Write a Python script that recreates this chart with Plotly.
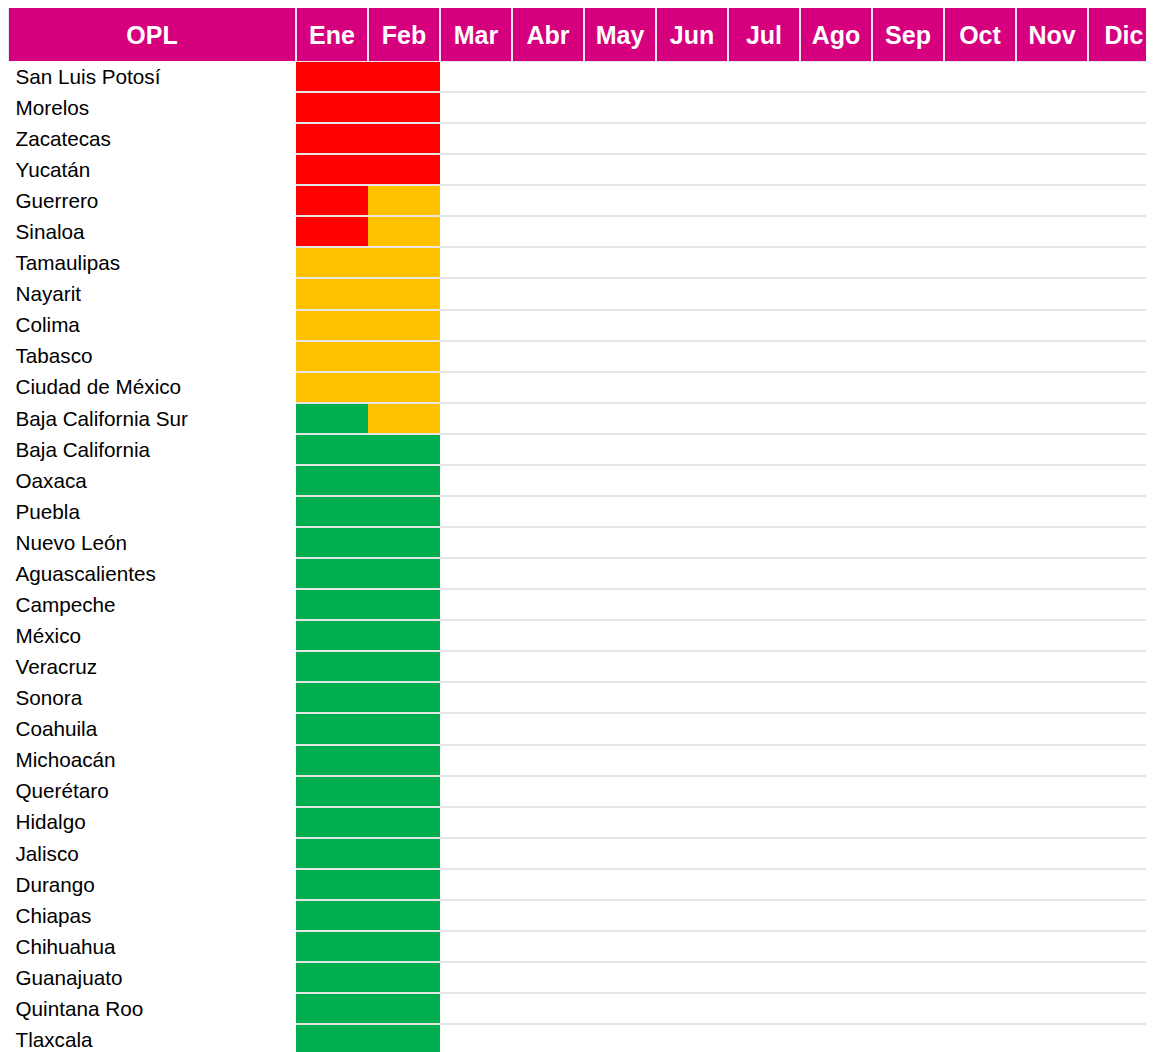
import plotly.graph_objects as go

# ---------------- data ----------------
meses = ["Ene", "Feb", "Mar", "Abr", "May", "Jun",
         "Jul", "Ago", "Sep", "Oct", "Nov", "Dic"]

estados = [
    "San Luis Potosí", "Morelos", "Zacatecas", "Yucatán", "Guerrero", "Sinaloa",
    "Tamaulipas", "Nayarit", "Colima", "Tabasco", "Ciudad de México",
    "Baja California Sur", "Baja California", "Oaxaca", "Puebla", "Nuevo León",
    "Aguascalientes", "Campeche", "México", "Veracruz", "Sonora", "Coahuila",
    "Michoacán", "Querétaro", "Hidalgo", "Jalisco", "Durango", "Chiapas",
    "Chihuahua", "Guanajuato", "Quintana Roo", "Tlaxcala",
]

ene = ["rojo", "rojo", "rojo", "rojo", "rojo", "rojo",
       "amarillo", "amarillo", "amarillo", "amarillo", "amarillo",
       "verde", "verde", "verde", "verde", "verde",
       "verde", "verde", "verde", "verde", "verde", "verde",
       "verde", "verde", "verde", "verde", "verde", "verde",
       "verde", "verde", "verde", "verde"]

feb = ["rojo", "rojo", "rojo", "rojo", "amarillo", "amarillo",
       "amarillo", "amarillo", "amarillo", "amarillo", "amarillo",
       "amarillo", "verde", "verde", "verde", "verde",
       "verde", "verde", "verde", "verde", "verde", "verde",
       "verde", "verde", "verde", "verde", "verde", "verde",
       "verde", "verde", "verde", "verde"]

encabezado = "OPL"

# ---------------- styling ----------------
# the page adds an 8px body margin, so the figure is sized to the visible area
W, H = 1146, 1044
MAGENTA = "#D6007F"
ROJO, AMARILLO, VERDE = "#FF0000", "#FFC000", "#00B050"
GRIS = "#E6E6E6"
FONT = "Liberation Sans, Arial, Helvetica, sans-serif"

col_px = 72.0          # width of one month column in px
opl_px = 288.0         # width of the OPL column in px
header_px = 53.0
row_px = 31.07

nivel = {None: 0, "verde": 1, "amarillo": 2, "rojo": 3}
datos_mes = {"Ene": ene, "Feb": feb}

z = []
for i, _ in enumerate(estados):
    fila = []
    for m in meses:
        serie = datos_mes.get(m)
        fila.append(nivel[serie[i]] if serie else 0)
    z.append(fila)

colorscale = [
    [0.0, "#FFFFFF"], [1/6, "#FFFFFF"],
    [1/6, VERDE], [0.5, VERDE],
    [0.5, AMARILLO], [5/6, AMARILLO],
    [5/6, ROJO], [1.0, ROJO],
]

body_px = H - header_px
x_body_start = opl_px / W
visible_cols = (W - opl_px) / col_px      # last column is clipped
x_max = -0.5 + visible_cols
rows_visible = body_px / row_px
y_max = -0.5 + rows_visible

fig = go.Figure()

# body heatmap
fig.add_trace(go.Heatmap(
    x=meses, y=estados, z=z,
    zmin=0, zmax=3, colorscale=colorscale, showscale=False,
    ygap=2, xgap=0, hoverinfo="skip",
    xaxis="x", yaxis="y",
))

# invisible trace to carry the state labels axis
fig.add_trace(go.Scatter(
    x=[meses[0]] * len(estados), y=estados, mode="markers",
    marker=dict(opacity=0), hoverinfo="skip", showlegend=False,
    xaxis="x", yaxis="y3",
))

# header heatmap
hdr_labels = [encabezado] + meses
opl_units = opl_px / col_px
hdr_edges = [-0.5 - opl_units] + [k - 0.5 for k in range(len(meses) + 1)]
fig.add_trace(go.Heatmap(
    x=hdr_edges, y=[0], z=[[1] * len(hdr_labels)],
    text=[hdr_labels], texttemplate="%{text}",
    textfont=dict(family=FONT, size=25, color="white", weight="bold"),
    colorscale=[[0, MAGENTA], [1, MAGENTA]], showscale=False,
    xgap=2, hoverinfo="skip",
    xaxis="x2", yaxis="y2",
))

hdr_dom = 1 - header_px / H

fig.update_layout(
    width=W, height=H,
    margin=dict(l=0, r=0, t=0, b=0, pad=0),
    paper_bgcolor="white",
    plot_bgcolor=GRIS,
    showlegend=False,
    font=dict(family=FONT, color="black"),
    xaxis=dict(domain=[x_body_start, 1], range=[-0.5, x_max],
               showticklabels=False, showgrid=False, zeroline=False,
               ticks="", anchor="y"),
    yaxis=dict(domain=[0, hdr_dom], range=[y_max, -0.5],
               showticklabels=False, showgrid=False, zeroline=False,
               ticks="", anchor="x"),
    yaxis3=dict(overlaying="y", side="right", anchor="free",
                position=6.5 / W, range=[y_max, -0.5],
                showgrid=False, zeroline=False, ticks="",
                showline=False,
                tickfont=dict(family=FONT, size=20.7, color="black")),
    xaxis2=dict(domain=[0, 1], range=[-0.5 - opl_units, x_max],
                showticklabels=False, showgrid=False, zeroline=False,
                ticks="", anchor="y2"),
    yaxis2=dict(domain=[hdr_dom, 1], range=[-0.5, 0.5],
                showticklabels=False, showgrid=False, zeroline=False,
                ticks="", anchor="x2"),
)

fig.write_html("out.html")
